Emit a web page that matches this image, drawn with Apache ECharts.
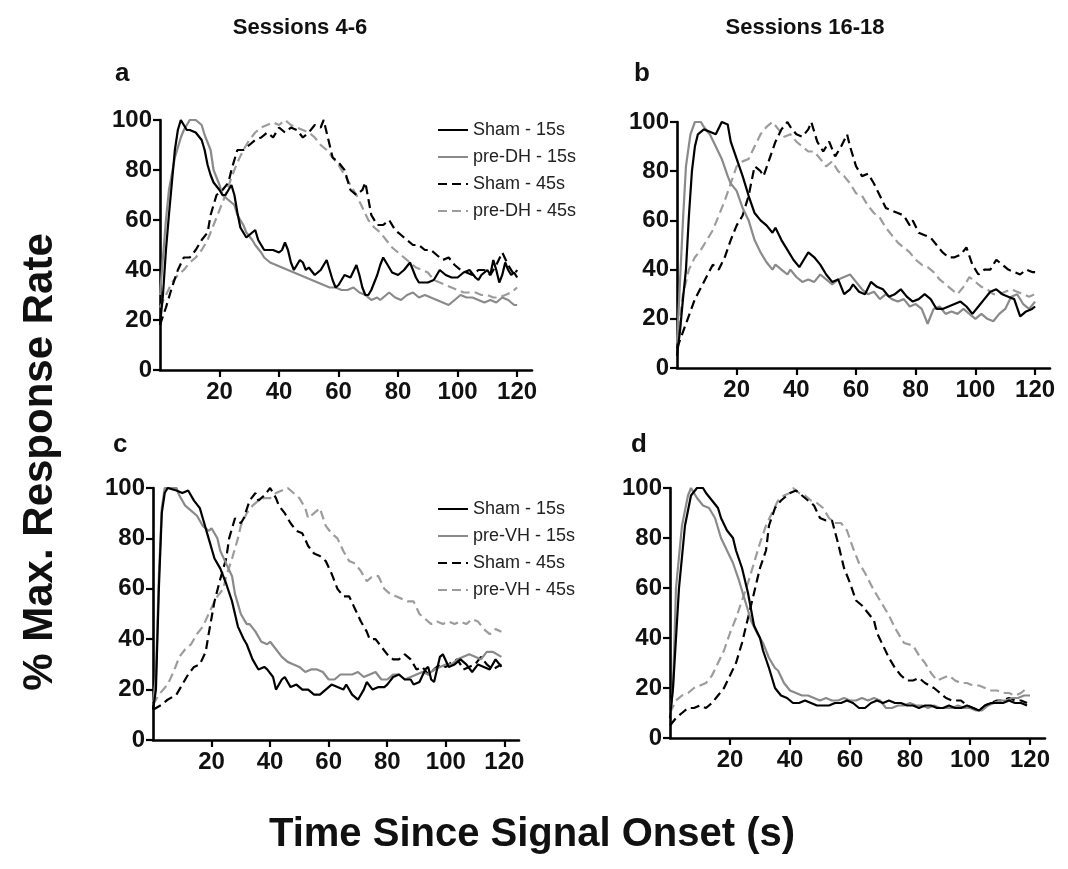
<!DOCTYPE html>
<html><head><meta charset="utf-8">
<script src="https://cdn.jsdelivr.net/npm/echarts@6/dist/echarts.min.js"></script>
<style>html,body{margin:0;padding:0;background:#fff}#c{width:1068px;height:869px}</style>
</head><body><div id="c"></div>
<script>
// ---------- text / ticks ----------
const yTicks = [0, 20, 40, 60, 80, 100];
const xTicks = [20, 40, 60, 80, 100, 120];
const namesTop = ['Sham - 15s', 'pre-DH - 15s', 'Sham - 45s', 'pre-DH - 45s'];
const namesBottom = ['Sham - 15s', 'pre-VH - 15s', 'Sham - 45s', 'pre-VH - 45s'];
const panelLetters = ['a', 'b', 'c', 'd'];
const columnTitles = ['Sessions 4-6', 'Sessions 16-18'];
const yTitle = '% Max. Response Rate';
const xTitle = 'Time Since Signal Onset (s)';

// ---------- panel a (Sessions 4-6, DH) ----------
const a_sham15 = [[0,18],[1,30],[2,48],[3,62],[4,75],[5,88],[6,96],[7,100],[8,98],[9,96],[10,96],[12,95],[14,92],[15,88],[16,82],[17,78],[18,75],[20,72],[21,70],[22,70],[23,72],[24,74],[25,70],[26,63],[27,57],[28,55],[29,53],[30,54],[31,55],[32,56],[33,52],[34,50],[35,48],[36,48],[38,48],[40,47],[41,48],[42,51],[43,48],[44,43],[45,40],[46,42],[47,44],[48,43],[49,40],[50,41],[52,38],[54,40],[56,44],[57,40],[58,36],[59,33],[60,34],[62,38],[64,37],[66,42],[67,38],[68,33],[69,30],[70,30],[71,32],[72,35],[73,38],[74,42],[75,45],[76,43],[78,39],[80,38],[82,40],[84,43],[85,40],[86,37],[87,35],[88,35],[90,35],[92,36],[94,40],[96,38],[98,37],[100,37],[102,39],[104,40],[106,37],[107,36],[108,38],[110,40],[111,38],[112,44],[113,40],[114,35],[115,38],[116,43],[117,40],[118,38],[119,39],[120,37]];
const a_pre15 = [[0,30],[1,45],[2,60],[3,72],[5,85],[7,93],[8,96],[10,100],[12,100],[14,98],[15,94],[17,88],[18,80],[20,74],[21,70],[23,68],[25,66],[26,62],[28,58],[29,55],[31,52],[32,50],[34,47],[35,45],[37,43],[39,42],[41,41],[43,40],[45,39],[47,38],[49,37],[51,36],[53,35],[55,34],[57,33],[59,33],[61,32],[63,32],[65,33],[67,31],[69,30],[71,28],[73,29],[74,28],[76,30],[77,31],[79,29],[81,28],[83,30],[85,31],[87,29],[89,30],[91,29],[93,28],[95,27],[97,26],[99,28],[101,30],[103,29],[105,29],[107,28],[109,27],[111,28],[113,27],[115,29],[117,28],[119,26],[120,26]];
const a_sham45 = [[0,18],[2,25],[4,33],[6,40],[8,45],[10,45],[12,48],[14,52],[16,55],[17,62],[19,70],[21,72],[23,75],[24,80],[26,88],[28,88],[30,90],[32,92],[34,93],[36,95],[38,93],[40,97],[42,95],[44,97],[46,96],[48,93],[50,95],[52,98],[54,97],[55,100],[56,95],[58,85],[60,83],[62,80],[64,72],[66,70],[68,72],[69,75],[71,62],[73,58],[75,58],[77,60],[79,56],[81,54],[83,52],[85,50],[87,50],[89,48],[91,48],[93,46],[95,44],[97,45],[99,42],[101,40],[103,39],[105,38],[107,40],[109,40],[111,38],[113,42],[115,47],[117,42],[119,38],[120,40]];
const a_pre45 = [[0,25],[2,30],[4,35],[6,38],[8,40],[10,43],[12,45],[14,48],[16,52],[18,58],[20,64],[22,70],[24,77],[26,83],[28,88],[30,92],[32,95],[34,97],[36,98],[38,99],[40,98],[42,100],[44,98],[46,97],[48,96],[50,95],[52,93],[54,90],[56,88],[58,85],[60,82],[62,78],[64,74],[66,70],[68,65],[70,60],[72,57],[74,55],[76,52],[78,49],[80,47],[82,45],[84,43],[86,41],[88,40],[90,39],[92,36],[94,35],[96,34],[98,33],[100,32],[102,31],[104,31],[106,31],[108,30],[110,30],[112,29],[114,29],[116,30],[118,31],[120,33]];

// ---------- panel b (Sessions 16-18, DH) ----------
const b_sham15 = [[0,5],[1,15],[2,28],[3,40],[4,62],[5,80],[6,90],[7,95],[9,97],[11,96],[13,95],[15,100],[17,99],[18,92],[20,85],[22,78],[24,70],[26,63],[28,60],[30,58],[32,55],[33,57],[35,52],[37,48],[39,44],[41,41],[43,45],[44,47],[46,45],[48,42],[50,38],[52,35],[54,36],[56,30],[58,32],[59,34],[61,31],[63,30],[65,35],[67,33],[69,32],[71,29],[73,30],[75,32],[77,29],[79,27],[81,28],[83,30],[85,28],[87,24],[89,24],[91,25],[93,26],[95,27],[97,25],[99,22],[101,25],[103,28],[105,31],[107,32],[109,30],[111,29],[113,28],[115,21],[117,23],[119,24],[120,25]];
const b_pre15 = [[0,10],[1,35],[2,60],[3,82],[4.5,95],[6,100],[8,100],[9,98],[11,95],[13,90],[15,85],[17,78],[18,75],[20,72],[22,65],[24,60],[26,52],[28,47],[30,43],[32,40],[33,42],[35,40],[37,38],[38,40],[40,37],[42,35],[44,36],[46,35],[48,38],[50,36],[52,34],[54,36],[56,37],[58,38],[60,35],[62,32],[64,30],[66,31],[68,28],[70,30],[72,28],[74,27],[76,28],[78,25],[80,26],[82,24],[84,18],[86,24],[88,25],[90,22],[92,23],[94,22],[96,24],[98,22],[100,20],[102,22],[104,20],[106,19],[108,22],[110,24],[112,29],[114,30],[116,26],[118,24],[120,27]];
const b_sham45 = [[0,8],[3,18],[6,28],[9,35],[12,42],[14,40],[16,45],[18,52],[20,58],[22,62],[24,70],[26,82],[28,80],[29,78],[31,85],[33,92],[35,97],[37,100],[38,98],[40,95],[42,94],[44,97],[45,100],[47,92],[49,88],[51,92],[53,86],[55,90],[57,95],[58,90],[60,82],[62,78],[64,79],[66,75],[68,70],[70,65],[72,64],[74,63],[76,62],[78,58],[79,60],[81,55],[83,54],[85,53],[87,50],[89,47],[91,45],[93,45],[95,46],[97,49],[99,42],[101,38],[103,40],[105,40],[107,44],[109,42],[111,40],[113,39],[115,38],[117,40],[119,39],[120,39]];
const b_pre45 = [[0,10],[2,30],[4,40],[6,45],[8,48],[10,52],[12,56],[14,62],[16,68],[18,75],[20,82],[22,84],[24,85],[26,90],[28,95],[30,98],[32,100],[34,97],[36,94],[38,95],[40,92],[42,90],[44,88],[46,88],[48,85],[50,82],[52,84],[54,80],[56,78],[58,75],[60,71],[62,70],[64,66],[66,63],[68,61],[70,57],[72,54],[74,51],[76,49],[78,47],[80,44],[82,42],[84,41],[86,39],[88,36],[90,34],[92,32],[94,30],[96,33],[98,37],[100,35],[102,33],[104,32],[106,30],[108,30],[110,31],[112,32],[114,31],[116,30],[118,29],[120,30]];

// ---------- panel c (Sessions 4-6, VH) ----------
const c_sham15 = [[0,12],[1,20],[2,60],[3,90],[4,98],[5,100],[8,99],[10,98],[12,99],[14,95],[16,92],[17,88],[19,80],[21,72],[23,68],[25,62],[27,55],[29,45],[31,40],[32,38],[34,32],[36,28],[38,29],[39,28],[41,25],[42,20],[44,24],[45,25],[47,21],[49,22],[51,20],[53,20],[55,18],[57,18],[59,20],[61,22],[63,21],[65,20],[66,22],[68,18],[70,16],[72,20],[73,23],[75,20],[77,21],[79,21],[80,22],[82,25],[84,26],[86,24],[88,24],[89,22],[91,23],[93,28],[94,29],[95,24],[96,23],[98,33],[99,34],[101,29],[103,30],[105,32],[107,30],[109,27],[111,30],[113,29],[115,28],[117,32],[119,29]];
const c_pre15 = [[0,15],[1,25],[2,65],[3,92],[4,100],[6,100],[8,100],[9,97],[11,93],[13,91],[15,89],[17,85],[19,83],[20,84],[22,80],[23,75],[25,70],[27,65],[28,58],[30,50],[32,46],[33,46],[35,43],[37,39],[39,38],[40,39],[42,36],[44,33],[46,31],[48,30],[50,29],[52,27],[54,28],[56,28],[58,27],[60,24],[62,24],[64,26],[66,26],[68,26],[70,27],[72,25],[74,26],[76,27],[78,24],[80,24],[82,26],[84,26],[86,24],[88,25],[90,26],[92,27],[94,26],[96,28],[98,29],[100,30],[102,30],[104,32],[106,33],[108,34],[110,33],[112,32],[114,35],[116,35],[119,33]];
const c_sham45 = [[0,12],[3,14],[5,16],[8,18],[10,22],[12,26],[14,29],[16,30],[18,35],[19,42],[21,55],[23,64],[25,72],[26,80],[28,88],[30,86],[31,88],[33,95],[35,98],[36,95],[38,97],[40,100],[42,96],[43,93],[45,90],[47,86],[49,83],[51,82],[53,77],[55,74],[57,73],[59,71],[61,66],[63,60],[65,57],[67,57],[69,52],[71,47],[73,43],[74,40],[76,40],[78,37],[80,34],[82,32],[84,32],[86,34],[88,32],[90,28],[92,29],[94,26],[96,28],[98,30],[100,29],[102,31],[104,32],[106,28],[108,29],[110,30],[112,33],[114,30],[116,28],[119,30]];
const c_pre45 = [[0,14],[2,18],[5,22],[7,27],[9,33],[11,36],[13,38],[15,42],[17,45],[19,50],[21,55],[22,57],[24,60],[25,65],[27,72],[29,80],[30,85],[32,90],[34,93],[36,95],[38,96],[40,96],[42,98],[44,99],[46,100],[48,98],[50,96],[52,92],[53,88],[55,90],[57,92],[59,85],[61,82],[63,80],[65,75],[67,71],[69,70],[71,67],[73,63],[75,65],[77,65],[79,60],[81,58],[83,57],[85,56],[87,55],[89,55],[91,50],[93,48],[95,46],[97,47],[99,46],[101,47],[103,46],[105,47],[107,46],[109,48],[111,47],[113,44],[115,42],[117,44],[119,43]];

// ---------- panel d (Sessions 16-18, VH) ----------
const d_sham15 = [[0,8],[1,20],[3,60],[5,85],[7,97],[9,100],[11,100],[12,98],[14,95],[16,92],[17,88],[19,83],[21,80],[22,75],[24,68],[26,58],[28,45],[30,40],[31,35],[33,28],[35,20],[37,17],[39,16],[41,14],[43,14],[45,15],[47,14],[49,13],[51,13],[53,13],[55,14],[57,14],[59,15],[61,14],[63,12],[65,12],[67,14],[69,15],[71,14],[73,15],[75,14],[77,14],[79,13],[81,13],[83,12],[85,13],[87,13],[89,12],[91,12],[93,13],[95,12],[97,12],[99,13],[101,12],[103,11],[105,13],[107,14],[109,14],[111,14],[113,15],[115,14],[117,14],[119,13]];
const d_pre15 = [[0,8],[1,20],[2,60],[4,85],[6,97],[7,100],[9,96],[11,93],[13,92],[15,88],[17,80],[19,75],[21,70],[23,63],[25,55],[27,47],[29,42],[31,38],[33,32],[35,28],[36,27],[38,22],[40,19],[42,18],[44,17],[46,17],[48,16],[50,15],[52,16],[54,15],[56,15],[58,16],[60,15],[62,15],[64,16],[66,15],[68,16],[70,15],[72,12],[74,12],[76,13],[78,13],[80,14],[82,13],[84,13],[86,12],[88,13],[90,12],[92,12],[94,12],[96,13],[98,12],[100,12],[102,11],[104,11],[106,13],[108,14],[110,15],[112,15],[114,16],[116,16],[118,17],[120,17]];
const d_sham45 = [[0,5],[2,8],[4,10],[6,12],[8,12],[10,13],[12,12],[14,14],[16,17],[18,20],[20,25],[22,30],[24,38],[26,48],[28,58],[30,68],[32,75],[33,85],[35,92],[37,95],[38,96],[40,98],[42,99],[44,97],[46,95],[48,93],[50,88],[52,87],[54,87],[56,78],[58,68],[60,62],[62,55],[64,53],[66,50],[68,47],[69,42],[71,37],[73,32],[75,28],[77,25],[79,23],[81,23],[83,24],[85,22],[88,20],[90,18],[92,16],[94,15],[97,15],[99,13],[101,12],[103,11],[105,13],[107,14],[109,15],[111,15],[113,16],[115,15],[117,15],[119,14]];
const d_pre45 = [[0,10],[2,15],[4,17],[6,18],[8,20],[10,21],[12,22],[14,25],[16,30],[18,35],[20,42],[22,48],[24,55],[26,62],[28,70],[30,78],[32,85],[34,90],[36,95],[38,97],[40,98],[41,100],[43,98],[45,97],[47,95],[49,94],[51,92],[53,88],[55,86],[57,86],[59,83],[61,76],[63,70],[65,66],[68,59],[70,55],[73,49],[75,44],[78,38],[81,37],[83,33],[85,30],[87,26],[89,23],[91,24],[93,25],[95,23],[97,22],[99,22],[101,21],[103,21],[105,20],[107,19],[109,19],[111,18],[113,18],[115,17],[117,18],[119,20]];

const panelData = [
  [a_sham15, a_pre15, a_sham45, a_pre45],
  [b_sham15, b_pre15, b_sham45, b_pre45],
  [c_sham15, c_pre15, c_sham45, c_pre45],
  [d_sham15, d_pre15, d_sham45, d_pre45]
];

// ---------- layout / styles ----------
const FONT = 'Liberation Sans, Arial, sans-serif';
const grids = [
  {left: 160, top: 120, width: 372, height: 250},
  {left: 677, top: 122, width: 373, height: 246},
  {left: 153, top: 488, width: 366, height: 252},
  {left: 670, top: 488, width: 375, height: 250}
];
const styles = [
  {color: '#000000', width: 2.2, type: 'solid'},
  {color: '#8a8a8a', width: 2.2, type: 'solid'},
  {color: '#000000', width: 2.2, type: [9, 5]},
  {color: '#9c9c9c', width: 2.2, type: [9, 5]}
];

const xAxes = [], yAxes = [], series = [];
grids.forEach((g, i) => {
  xAxes.push({
    gridIndex: i, type: 'value', min: 0, max: 125,
    axisLine: {show: true, onZero: false, lineStyle: {color: '#000', width: 2.6}},
    axisTick: {show: true, customValues: xTicks, length: 7, lineStyle: {color: '#000', width: 2.2}},
    axisLabel: {customValues: xTicks, margin: 10, color: '#111', fontSize: 24, fontWeight: 'bold', fontFamily: FONT},
    splitLine: {show: false}
  });
  yAxes.push({
    gridIndex: i, type: 'value', min: 0, max: 100, interval: 20,
    axisLine: {show: true, lineStyle: {color: '#000', width: 2.6}},
    axisTick: {show: true, length: 7, lineStyle: {color: '#000', width: 2.2}},
    axisLabel: {margin: 8, color: '#111', fontSize: 24, fontWeight: 'bold', fontFamily: FONT},
    splitLine: {show: false}
  });
  const names = i < 2 ? namesTop : namesBottom;
  panelData[i].forEach((d, k) => {
    series.push({
      name: names[k], type: 'line', xAxisIndex: i, yAxisIndex: i,
      data: d, showSymbol: false, symbol: 'none', smooth: false,
      lineStyle: styles[k], itemStyle: {color: styles[k].color},
      z: 10 - k
    });
  });
});

const legendCommon = {
  orient: 'vertical', itemWidth: 30, itemHeight: 14, itemGap: 9,
  itemStyle: {opacity: 0, borderWidth: 0},
  textStyle: {fontFamily: FONT, fontSize: 18, color: '#222', lineHeight: 18},
  selectedMode: false
};

const graphics = [];
const letterPos = [[115, 61], [634, 61], [113, 432], [631, 432]];
panelLetters.forEach((t, i) => {
  graphics.push({type: 'text', left: letterPos[i][0], top: letterPos[i][1],
    style: {text: t, font: 'bold 26px ' + FONT, fill: '#111'}});
});
graphics.push({type: 'text', x: 300, y: 28, style: {text: columnTitles[0], font: 'bold 22px ' + FONT, fill: '#111', align: 'center', verticalAlign: 'middle'}});
graphics.push({type: 'text', x: 805, y: 28, style: {text: columnTitles[1], font: 'bold 22px ' + FONT, fill: '#111', align: 'center', verticalAlign: 'middle'}});
graphics.push({type: 'text', x: 40, y: 462, rotation: Math.PI / 2, style: {text: yTitle, font: 'bold 42px ' + FONT, fill: '#111', align: 'center', verticalAlign: 'middle'}});
graphics.push({type: 'text', x: 532, y: 835, style: {text: xTitle, font: 'bold 40px ' + FONT, fill: '#111', align: 'center', verticalAlign: 'middle'}});

const chart = echarts.init(document.getElementById('c'), null, {renderer: 'canvas'});
chart.setOption({
  animation: false,
  backgroundColor: '#ffffff',
  grid: grids,
  xAxis: xAxes,
  yAxis: yAxes,
  legend: [
    Object.assign({}, legendCommon, {left: 432, top: 116, data: namesTop}),
    Object.assign({}, legendCommon, {left: 432, top: 495, data: namesBottom})
  ],
  graphic: graphics,
  series: series
});
</script></body></html>
